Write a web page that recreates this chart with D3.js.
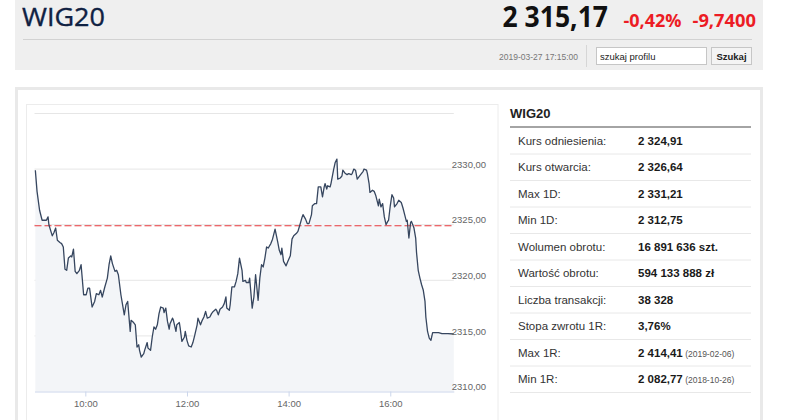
<!DOCTYPE html>
<html>
<head>
<meta charset="utf-8">
<script src="https://cdnjs.cloudflare.com/ajax/libs/d3/7.8.5/d3.min.js"></script>
<style>
  body { margin: 0; background: #fff; }
  svg { display: block; font-family: "Liberation Sans", Arial, sans-serif; }
  .axis text { fill: #666; font-size: 9.5px; font-family: "Liberation Sans", Arial, sans-serif; }
</style>
</head>
<body>
<svg id="chart" width="786" height="420"></svg>
<script>
// header
var indexName = "WIG20",
  lastPrice = "2 315,17",
  changePct = "-0,42%",
  changeAbs = "-9,7400",
  stamp = "2019-03-27 17:15:00";

// intraday session 27.03.2019
var sessionStart = "09:00", sessionEnd = "17:15";
var refPrice = 2324.91;

var times = [
  "09:01","09:03","09:06","09:09","09:14","09:16","09:17","09:21","09:23","09:25",
  "09:27","09:30","09:32","09:34","09:36","09:38","09:40","09:43","09:44","09:46",
  "09:48","09:50","09:53","09:55","09:56","09:58","10:01","10:03","10:05","10:08",
  "10:11","10:13","10:16","10:18","10:20","10:23","10:26","10:28","10:30","10:32",
  "10:35","10:37","10:39","10:42","10:46","10:48","10:50","10:53","10:54","10:57",
  "10:59","11:01","11:03",
  "11:04","11:06","11:09","11:10","11:13","11:14","11:17","11:19","11:21","11:23",
  "11:25","11:27","11:29","11:32","11:33","11:35","11:37","11:39","11:40","11:43",
  "11:44","11:47","11:48","11:51","11:52","11:54","11:57","11:58","12:00","12:02",
  "12:05","12:07","12:09","12:12","12:13","12:16","12:18","12:20","12:22","12:24",
  "12:27","12:29","12:31","12:34","12:35","12:37","12:39","12:42","12:44","12:46",
  "12:47","12:50","12:51","12:53","12:56","12:58","13:00","13:02","13:05",
  "13:06","13:09","13:10","13:13","13:14","13:17","13:19","13:21","13:24","13:26",
  "13:28","13:30","13:32","13:34","13:36","13:39","13:41","13:44","13:47","13:49",
  "13:51","13:52","13:54","13:57","13:59","14:02","14:04","14:06","14:09","14:11",
  "14:13","14:16","14:17","14:20","14:22","14:24","14:27","14:28","14:31","14:33",
  "14:35","14:38","14:40","14:42","14:43","14:45","14:46","14:49","14:50","14:53",
  "14:55","14:57","14:58","15:01","15:03","15:04","15:07","15:09",
  "15:11","15:14","15:15","15:17","15:19","15:21","15:23","15:25","15:28","15:29",
  "15:32","15:33","15:35","15:36","15:39","15:41","15:43","15:46","15:47","15:49",
  "15:51","15:53","15:55","15:57","15:58","16:00","16:02","16:04","16:05","16:08",
  "16:10","16:13","16:15","16:17","16:19","16:20","16:22","16:24","16:25","16:27",
  "16:28","16:30","16:31","16:33","16:35","16:37","16:39","16:41","16:42","16:44",
  "16:46","16:48","16:50","16:53","16:57","17:01","17:08","17:15"
];

var values = [
  2329.9, 2328.0, 2326.3, 2325.4, 2325.4, 2325.7, 2325.0, 2324.0, 2324.3, 2324.7,
  2323.6, 2323.4, 2323.3, 2323.0, 2321.0, 2320.9, 2322.0, 2322.2, 2322.1, 2322.8,
  2320.8, 2320.6, 2320.9, 2321.4, 2320.5, 2318.7, 2318.7, 2319.3, 2319.3, 2317.6,
  2318.1, 2318.8, 2318.7, 2319.1, 2318.5, 2319.4, 2320.2, 2321.4, 2322.2, 2321.5,
  2320.8, 2320.9, 2320.5, 2318.7, 2316.9, 2317.8, 2318.1, 2315.4, 2316.4, 2316.2,
  2316.0, 2314.0, 2314.2,
  2313.7, 2313.1, 2313.4, 2313.7, 2314.4, 2313.9, 2313.7, 2314.9, 2315.8, 2315.6,
  2316.0, 2317.0, 2317.6, 2317.5, 2317.1, 2317.5, 2316.3, 2315.6, 2316.1, 2316.6,
  2316.4, 2315.4, 2316.0, 2316.2, 2315.7, 2314.5, 2314.9, 2315.4, 2314.6, 2314.1,
  2314.0, 2314.4, 2315.0, 2316.0, 2316.6, 2316.0, 2316.4, 2316.7, 2317.2, 2316.6,
  2316.7, 2317.0, 2317.2, 2317.4, 2317.3, 2316.9, 2317.4, 2317.6, 2317.9, 2318.5,
  2317.5, 2317.3, 2317.8, 2319.4, 2319.4, 2319.9, 2320.6, 2322.0, 2320.9,
  2319.9, 2320.0, 2319.8, 2319.8, 2320.2, 2317.5, 2318.5, 2320.5, 2318.2, 2320.2,
  2321.4, 2321.2, 2322.0, 2323.0, 2322.9, 2323.3, 2323.7, 2324.6, 2323.5, 2322.7,
  2322.3, 2322.9, 2321.7, 2321.3, 2321.7, 2322.2, 2323.7, 2324.0, 2324.2, 2324.4,
  2324.9, 2325.7, 2325.9, 2325.5, 2325.1, 2325.1, 2325.9, 2326.7, 2326.9, 2326.9,
  2328.4, 2328.4, 2327.5, 2328.4, 2328.7, 2328.2, 2328.5, 2328.4, 2328.7, 2329.9,
  2330.6, 2330.9, 2329.1, 2329.2, 2329.4, 2329.9, 2329.6, 2329.5,
  2329.6, 2329.5, 2329.6, 2330.0, 2329.9, 2329.1, 2329.3, 2329.5, 2329.8, 2330.0,
  2329.9, 2329.6, 2328.7, 2327.9, 2328.1, 2328.0, 2327.6, 2326.7, 2327.3, 2326.6,
  2326.9, 2325.7, 2325.0, 2325.3, 2325.4, 2326.7, 2327.7, 2327.4, 2326.6, 2326.9,
  2327.2, 2327.0, 2326.5, 2325.9, 2325.3, 2325.4, 2323.8, 2325.2, 2325.3, 2324.9,
  2324.7, 2323.8, 2322.5, 2320.9, 2320.2, 2319.6, 2319.1, 2318.1, 2316.7, 2315.4,
  2314.8, 2314.6, 2315.3, 2315.3, 2315.3, 2315.2, 2315.2, 2315.17
];

var yDomain = [2310, 2335];
var yGridValues = [2315, 2320, 2325, 2330, 2335];
var yTickValues = [2310, 2315, 2320, 2325, 2330];
var xTickLabels = ["10:00", "12:00", "14:00", "16:00"];

// stats table
var statLabels = ["Kurs odniesienia:", "Kurs otwarcia:", "Max 1D:", "Min 1D:", "Wolumen obrotu:",
  "Wartość obrotu:", "Liczba transakcji:", "Stopa zwrotu 1R:", "Max 1R:", "Min 1R:"];
var statValues = ["2 324,91", "2 326,64", "2 331,21", "2 312,75", "16 891 636 szt.",
  "594 133 888 zł", "38 328", "3,76%", "2 414,41", "2 082,77"];
var statNotes = ["", "", "", "", "", "", "", "", "(2019-02-06)", "(2018-10-26)"];

var svg = d3.select("#chart");
var headFont = "'Open Sans', 'Noto Sans', sans-serif";

// ---- header bar
var head = svg.append("g");
head.append("rect").attr("x", 15).attr("y", 0).attr("width", 748).attr("height", 70).attr("fill", "#efefef");
head.append("text").attr("x", 22).attr("y", 26)
  .attr("font-family", headFont).attr("font-size", 25)
  .attr("fill", "#0f2142").attr("stroke", "#0f2142").attr("stroke-width", 0.35)
  .attr("textLength", 83).attr("lengthAdjust", "spacingAndGlyphs")
  .text(indexName);
head.append("text").attr("x", 502.5).attr("y", 26.7)
  .attr("font-family", headFont)
  .attr("font-size", 28).attr("font-weight", "bold").attr("fill", "#111")
  .attr("textLength", 105.5).attr("lengthAdjust", "spacingAndGlyphs")
  .text(lastPrice);
head.append("text").attr("x", 623.5).attr("y", 26.7)
  .attr("font-family", headFont)
  .attr("font-size", 18.5).attr("font-weight", "bold").attr("fill", "#ec1c24")
  .attr("textLength", 58).attr("lengthAdjust", "spacingAndGlyphs")
  .text(changePct);
head.append("text").attr("x", 692.5).attr("y", 26.7)
  .attr("font-family", headFont)
  .attr("font-size", 18.5).attr("font-weight", "bold").attr("fill", "#ec1c24")
  .attr("textLength", 63.5).attr("lengthAdjust", "spacingAndGlyphs")
  .text(changeAbs);
head.append("line").attr("x1", 23).attr("x2", 752).attr("y1", 39.5).attr("y2", 39.5)
  .attr("stroke", "#d2d2d2");
head.append("text").attr("x", 578).attr("y", 59.5).attr("text-anchor", "end")
  .attr("font-size", 8.5).attr("fill", "#777").text(stamp);
head.append("line").attr("x1", 586.5).attr("x2", 586.5).attr("y1", 45).attr("y2", 67)
  .attr("stroke", "#d6d6d6");
head.append("rect").attr("x", 596.5).attr("y", 47.5).attr("width", 110).attr("height", 17)
  .attr("fill", "#fff").attr("stroke", "#c6c6c6");
head.append("text").attr("x", 600).attr("y", 59.5).attr("font-size", 9.5).attr("fill", "#222")
  .text("szukaj profilu");
head.append("rect").attr("x", 711.5).attr("y", 47.5).attr("width", 40).attr("height", 17)
  .attr("fill", "#f4f4f4").attr("stroke", "#c6c6c6");
head.append("text").attr("x", 731.5).attr("y", 59.5).attr("text-anchor", "middle")
  .attr("font-size", 9.5).attr("font-weight", "bold").attr("fill", "#222").text("Szukaj");

// ---- panel
svg.append("rect").attr("x", 16.5).attr("y", 88.5).attr("width", 745).attr("height", 360)
  .attr("fill", "#fff").attr("stroke", "#e9e9e9").attr("stroke-width", 3);
svg.append("rect").attr("x", 26.5).attr("y", 104.5).attr("width", 471.5).attr("height", 400)
  .attr("fill", "none").attr("stroke", "#ececec");

// ---- chart
var parseTime = d3.timeParse("%H:%M");
var data = times.map(function(t, i) {
  return { time: parseTime(t), value: values[i] };
});

var x = d3.scaleTime()
  .domain([parseTime(sessionStart), parseTime(sessionEnd)])
  .range([34.5, 453.8]);
var y = d3.scaleLinear().domain(yDomain).range([391.5, 113.5]);

var plot = svg.append("g");

plot.selectAll("line.grid")
  .data(yGridValues).enter()
  .append("line")
  .attr("class", "grid")
  .attr("x1", x.range()[0]).attr("x2", x.range()[1])
  .attr("y1", function(d) { return y(d); })
  .attr("y2", function(d) { return y(d); })
  .attr("stroke", "#e6e6e6");

var area = d3.area()
  .x(function(d) { return x(d.time); })
  .y0(y(yDomain[0]))
  .y1(function(d) { return y(d.value); });
var line = d3.line()
  .x(function(d) { return x(d.time); })
  .y(function(d) { return y(d.value); });

plot.append("path").datum(data).attr("d", area).attr("fill", "#f3f5f8");

plot.append("line")
  .attr("x1", x.range()[0]).attr("x2", x.range()[1])
  .attr("y1", y(refPrice)).attr("y2", y(refPrice))
  .attr("stroke", "#e8383d").attr("stroke-width", 1.1).attr("stroke-dasharray", "7,3");

plot.append("path").datum(data).attr("d", line)
  .attr("fill", "none").attr("stroke", "#36465f").attr("stroke-width", 1.3)
  .attr("stroke-linejoin", "round");

var xAxis = plot.append("g").attr("class", "axis")
  .attr("transform", "translate(0," + y(yDomain[0]) + ")")
  .call(d3.axisBottom(x)
    .tickValues(xTickLabels.map(parseTime))
    .tickFormat(d3.timeFormat("%H:%M"))
    .tickSize(5).tickSizeOuter(0).tickPadding(4));
xAxis.select(".domain").attr("stroke", "#ccd6eb");
xAxis.selectAll(".tick line").attr("stroke", "#ccd6eb");

var yAxis = plot.append("g").attr("class", "axis")
  .attr("transform", "translate(" + x.range()[1] + ",0)")
  .call(d3.axisRight(y)
    .tickValues(yTickValues)
    .tickSize(0).tickPadding(-2)
    .tickFormat(function(d) { return d3.format(".2f")(d).replace(".", ","); }));
yAxis.select(".domain").remove();
yAxis.selectAll(".tick text").attr("dy", "-0.2em");

// ---- stats table
var table = svg.append("g");
table.append("text").attr("x", 510).attr("y", 118)
  .attr("font-size", 13).attr("font-weight", "bold").attr("fill", "#222").text(indexName);
table.append("line").attr("x1", 510).attr("x2", 751).attr("y1", 127).attr("y2", 127)
  .attr("stroke", "#a4a4a4").attr("stroke-width", 2);

var row = d3.scaleBand().domain(statLabels).range([127.5, 392.5]);

var rows = table.selectAll("g.row")
  .data(statLabels).enter()
  .append("g").attr("class", "row")
  .attr("transform", function(d) { return "translate(0," + row(d) + ")"; });

rows.append("line")
  .attr("x1", 510).attr("x2", 751)
  .attr("y1", row.bandwidth()).attr("y2", row.bandwidth())
  .attr("stroke", "#e8e8e8");
rows.append("text")
  .attr("x", 518).attr("y", row.bandwidth() / 2 + 4)
  .attr("font-size", 11.5).attr("fill", "#333")
  .text(function(d) { return d; });
var vals = rows.append("text")
  .attr("x", 638).attr("y", row.bandwidth() / 2 + 4)
  .attr("font-size", 11.5).attr("fill", "#1a1a1a");
vals.append("tspan").attr("font-weight", "bold")
  .text(function(d, i) { return statValues[i]; });
vals.append("tspan").attr("font-size", 8.5).attr("fill", "#555")
  .text(function(d, i) { return statNotes[i] ? " " + statNotes[i] : ""; });
</script>
</body>
</html>
